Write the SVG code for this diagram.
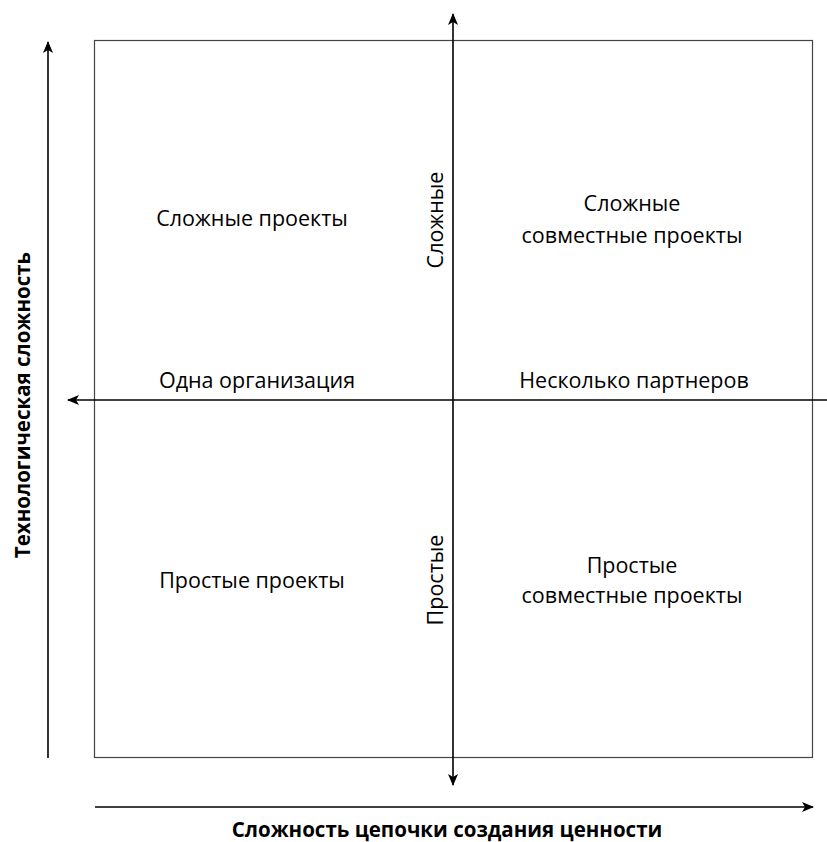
<svg xmlns="http://www.w3.org/2000/svg" width="827" height="842" viewBox="0 0 827 842">
  <style>
    .frame { fill: none; stroke: #444; stroke-width: 1.2; }
    .axis { fill: none; stroke: #000; stroke-width: 1.6; }
    .lbl { font-family: "Open Sans", "Liberation Sans", sans-serif; font-size: 21.5px; fill: #000; text-anchor: middle; }
    .title { font-family: "Open Sans", "Liberation Sans", sans-serif; font-size: 20.5px; font-weight: bold; fill: #000; text-anchor: middle; }
  </style>
  <defs>
    <marker id="arrow" viewBox="0 0 12 10" refX="11" refY="5" markerWidth="12" markerHeight="10" markerUnits="userSpaceOnUse" orient="auto">
      <path d="M0,0 L12,5 L0,10 L3,5 Z" fill="#000"/>
    </marker>
  </defs>

  <rect id="background" x="0" y="0" width="827" height="842" fill="#fff"/>

  <!-- quadrant frame -->
  <rect id="frame" class="frame" x="94.5" y="40.5" width="718" height="717"/>

  <g id="connectors">
    <!-- vertical axis: technological complexity -->
    <line class="axis" x1="48" y1="758" x2="48" y2="42" marker-end="url(#arrow)"/>
    <!-- horizontal axis: value chain complexity -->
    <line class="axis" x1="95" y1="807" x2="813" y2="807" marker-end="url(#arrow)"/>
    <!-- central cross -->
    <line class="axis" x1="453" y1="400" x2="453" y2="14" marker-end="url(#arrow)"/>
    <line class="axis" x1="453" y1="400" x2="453" y2="785" marker-end="url(#arrow)"/>
    <line class="axis" x1="827" y1="400" x2="68" y2="400" marker-end="url(#arrow)"/>
  </g>

  <g id="q-complex">
    <text class="lbl" x="252" y="226">Сложные проекты</text>
  </g>
  <g id="q-complex-joint">
    <text class="lbl" x="632" y="211">Сложные</text>
    <text class="lbl" x="632" y="243">совместные проекты</text>
  </g>
  <g id="q-simple">
    <text class="lbl" x="252" y="588">Простые проекты</text>
  </g>
  <g id="q-simple-joint">
    <text class="lbl" x="632" y="573">Простые</text>
    <text class="lbl" x="632" y="603">совместные проекты</text>
  </g>
  <g id="label-single">
    <text class="lbl" x="257" y="388">Одна организация</text>
  </g>
  <g id="label-partners">
    <text class="lbl" x="634" y="388">Несколько партнеров</text>
  </g>
  <g id="label-complex-axis">
    <text class="lbl" transform="translate(443,220) rotate(-90)">Сложные</text>
  </g>
  <g id="label-simple-axis">
    <text class="lbl" transform="translate(443,580) rotate(-90)">Простые</text>
  </g>
  <g id="title-y">
    <text class="title" font-size="22" transform="translate(30,405) rotate(-90)">Технологическая сложность</text>
  </g>
  <g id="title-x">
    <text class="title" x="447" y="837">Сложность цепочки создания ценности</text>
  </g>
</svg>
